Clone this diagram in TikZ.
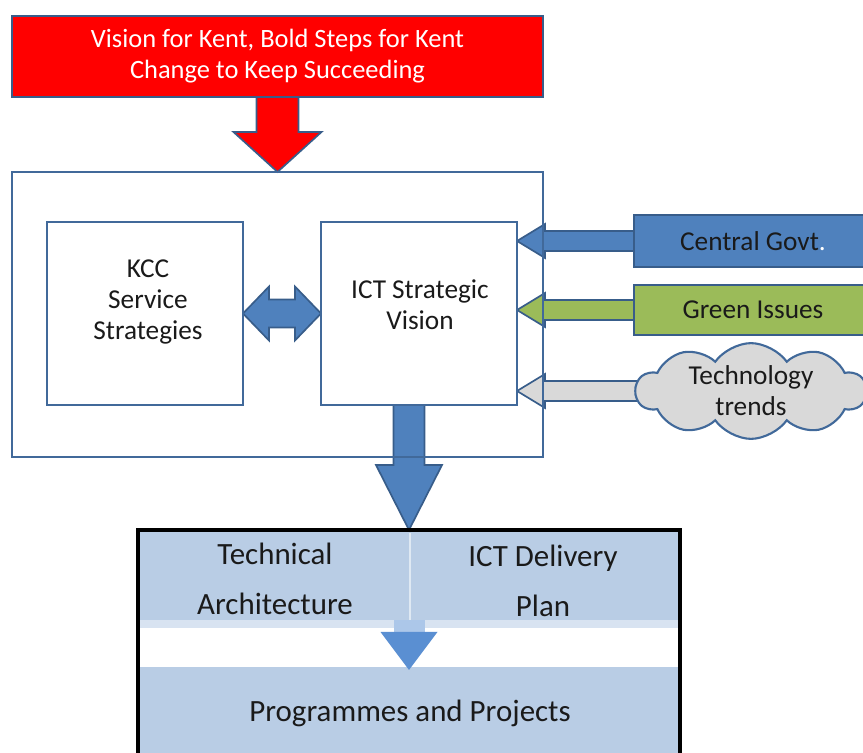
\documentclass[tikz,border=0pt]{standalone}
\usepackage{fontspec}
\setmainfont{Carlito}
\usetikzlibrary{shapes, shapes.symbols, positioning, calc, backgrounds}

\definecolor{linkblue}{HTML}{385D8A}
\definecolor{frameblue}{HTML}{41699A}
\definecolor{fillblue}{HTML}{4F81BD}
\definecolor{govgreen}{HTML}{9BBB59}
\definecolor{cloudgray}{HTML}{D9D9D9}
\definecolor{bandblue}{HTML}{B9CDE5}
\definecolor{flowblue}{HTML}{5A8FD2}
\definecolor{inktext}{HTML}{1A1A1A}

\newcommand{\bodyfont}{\fontsize{19.4}{22}\selectfont}
\newcommand{\headfont}{\fontsize{18.8}{22}\selectfont}
\newcommand{\planfont}{\fontsize{22}{36}\selectfont}

\begin{document}
\begin{tikzpicture}[x=0.025cm, y=-0.025cm, outer sep=0pt, text=inktext, font=\bodyfont]
\tikzstyle{frame}=[draw=frameblue, line width=2pt, rectangle]
\tikzstyle{feed}=[draw=linkblue, line width=1.5pt, rectangle, align=center]
\tikzstyle{blk}=[draw=linkblue, line width=1.2pt, line join=miter]
\tikzstyle{txt}=[align=center, inner sep=0pt]

\useasboundingbox (0,0) rectangle (863,753);
\clip (0,0) rectangle (863,753);

\node[feed, fill=red, text=white, font=\headfont, line width=2pt, minimum width=13.275cm, minimum height=2.025cm]	(vision) at (277.5,56.5)	{Vision for Kent, Bold Steps for Kent\\Change to Keep Succeeding};

\node[frame, minimum width=13.275cm, minimum height=7.125cm]		(core) at (277.5,314.5)	{};
\node[frame, fill=white, line width=1.6pt, minimum width=4.9cm, minimum height=4.575cm]	(kcc) at (145,313.5)	{};
\node[frame, fill=white, line width=1.6pt, minimum width=4.9cm, minimum height=4.575cm]	(ictv) at (419,313.5)	{};
\node[txt]	(kcctxt) at (148,302)	{KCC\\Service\\Strategies};
\node[txt]	(ictvtxt) at (420,305)	{ICT Strategic\\Vision};

\node[feed, fill=fillblue, minimum width=5.95cm, minimum height=1.3cm]	(govt) at (753,241)	{Central Govt\textcolor{white}{.}};
\node[feed, fill=govgreen, minimum width=5.95cm, minimum height=1.25cm]	(green) at (753,310)	{Green Issues};
\node[draw=frameblue, line width=1.5pt, fill=cloudgray, cloud, cloud puffs=10, cloud puff arc=110, cloud ignores aspect, minimum width=5.75cm, minimum height=2.1cm, align=center, inner sep=0pt]	(trends) at (751,391)	{Technology\\trends};

\node[draw=black, line width=3pt, fill=white, minimum width=13.55cm, minimum height=6.5cm]	(delivery) at (409,660)	{};

\fill[bandblue] ($(delivery.north west)+(2,2)$) rectangle ($(delivery.north east)+(-2,90)$);
\fill[bandblue!55!white] ($(delivery.north west)+(2,90)$) rectangle ($(delivery.north east)+(-2,98)$);
\fill[bandblue] ($(delivery.north west)+(2,137)$) rectangle ($(delivery.south east)+(-2,-2)$);
\draw[white!55!bandblue, line width=1.5pt] ($(delivery.north)+(1,3)$) -- ($(delivery.north)+(1,95)$);
\fill[flowblue!50!white] ($(delivery.north)+(-15.5,90)$) rectangle ($(delivery.north)+(15.5,102)$);
\fill[flowblue] ($(delivery.north)+(-28.5,102)$) -- ($(delivery.north)+(28.5,102)$) -- ($(delivery.north)+(0,140)$) -- cycle;

\node[txt, font=\planfont]	(tech) at (275,579)	{Technical\\Architecture};
\node[txt, font=\planfont]	(plan) at (543,581)	{ICT Delivery\\Plan};
\node[txt, font=\planfont]	(progs) at (410,713)	{Programmes and Projects};

\begin{scope}[on background layer]
\draw[blk, fill=red] ($(vision.south)+(-21,0)$) -- ($(vision.south)+(21,0)$) -- ($(vision.south)+(21,35)$) -- ($(vision.south)+(44,35)$) -- (core.north) -- ($(vision.south)+(-44,35)$) -- ($(vision.south)+(-21,35)$) -- cycle;

\draw[blk, fill=fillblue] (kcc.east) -- ++(26,-27) -- ++(0,13) -- ($(ictv.west)+(-26,-14)$) -- ++(0,-13) -- (ictv.west) -- ++(-26,27) -- ++(0,-13) -- ($(kcc.east)+(26,14)$) -- ++(0,13) -- cycle;

\coordinate (drop) at (ictv.south -| delivery.north);
\draw[blk, fill=fillblue] ($(drop)+(-15.5,0)$) -- ($(drop)+(15.5,0)$) -- ($(drop)+(15.5,60)$) -- ($(drop)+(33,60)$) -- (delivery.north) -- ($(drop)+(-33,60)$) -- ($(drop)+(-15.5,60)$) -- cycle;

\foreach \src/\col in {govt/fillblue, green/govgreen, trends/cloudgray}
	\draw[blk, fill=\col] ($(\src.west)+(4,-10)$) -- ($(ictv.east |- \src.west)+(28,-10)$) -- ($(ictv.east |- \src.west)+(28,-17)$) -- (ictv.east |- \src.west) -- ($(ictv.east |- \src.west)+(28,17)$) -- ($(ictv.east |- \src.west)+(28,10)$) -- ($(\src.west)+(4,10)$) -- cycle;
\end{scope}

\end{tikzpicture}
\end{document}
